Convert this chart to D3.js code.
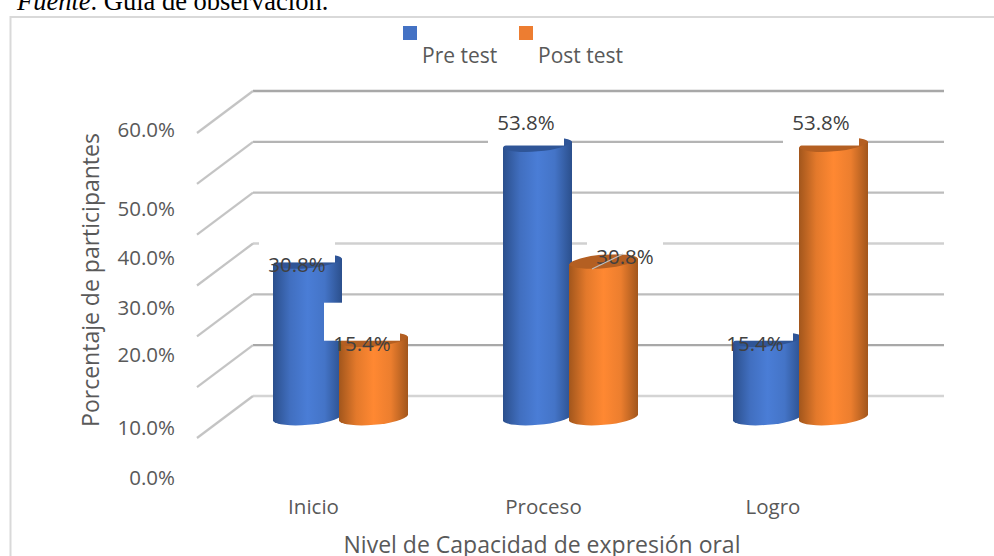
<!DOCTYPE html>
<html><head><meta charset="utf-8">
<script src="https://cdnjs.cloudflare.com/ajax/libs/d3/7.8.5/d3.min.js"></script>
<style>html,body{margin:0;padding:0;background:#fff;overflow:hidden}</style></head>
<body><svg id="c" width="994" height="556" style="display:block"></svg>
<script>
const categories = ["Inicio", "Proceso", "Logro"];
const seriesNames = ["Pre test", "Post test"];
const preTest = [30.8, 53.8, 15.4];
const postTest = [15.4, 30.8, 53.8];
const tickValues = [0, 10, 20, 30, 40, 50, 60];

const svg = d3.select("#c");
const font = "'Open Sans', sans-serif";
const txt = "#595959";

// Frame: left and top rules only
svg.append("line").attr("x1", 10.5).attr("x2", 10.5).attr("y1", 16).attr("y2", 556).attr("stroke", "#d9d9d9").attr("stroke-width", 2);
svg.append("line").attr("x1", 10.5).attr("x2", 994).attr("y1", 17).attr("y2", 17).attr("stroke", "#d9d9d9").attr("stroke-width", 2);

// Caption
const cap = svg.append("text").attr("x", 17).attr("y", 10)
  .attr("font-family", "'Liberation Serif', serif").attr("font-size", 26.5).attr("fill", "#000");
cap.append("tspan").attr("font-style", "italic").text("Fuente");
cap.append("tspan").text(". Guía de observación.");

// Scales: back wall, side wall, bar plane
const yBack = d3.scaleLinear().domain([0, 60]).range([396, 91]);
const ySide = d3.scaleLinear().domain([0, 60]).range([438, 133]);
const yBar = d3.scaleLinear().domain([0, 60]).range([418, 113]);
const x0 = d3.scaleBand().domain(categories).range([225.5, 915.5]);
const barW = 69, overlap = 3;

// Grid
const gridShade = ["#d4d4d4", "#a8a8a8", "#bdbdbd", "#d0d0d0", "#bdbdbd", "#b4b4b4", "#a8a8a8"];
const grid = svg.append("g");
grid.selectAll("line.b").data(tickValues).join("line").attr("class", "b")
  .attr("x1", 253).attr("x2", 944).attr("y1", d => yBack(d)).attr("y2", d => yBack(d))
  .attr("stroke", (d, i) => gridShade[i]).attr("stroke-width", 2.4);
grid.selectAll("line.s").data(tickValues).join("line").attr("class", "s")
  .attr("x1", 197).attr("x2", 253).attr("y1", d => ySide(d)).attr("y2", d => yBack(d))
  .attr("stroke", "#c4c4c4").attr("stroke-width", 2.2);

// Gradients
const defs = svg.append("defs");
function grad(id, edge, mid) {
  const g = defs.append("linearGradient").attr("id", id).attr("x1", 0).attr("x2", 1).attr("y1", 0).attr("y2", 0);
  [[0, edge], [0.25, d3.interpolateRgb(edge, mid)(0.7)], [0.5, mid], [0.75, d3.interpolateRgb(edge, mid)(0.8)], [1, edge]]
    .forEach(s => g.append("stop").attr("offset", s[0]).attr("stop-color", s[1]));
}
grad("gb", "#2b4f8c", "#4a7dd6");
grad("go", "#a2561c", "#ff8832");
const topFill = ["#2f5597", "#b45f22"];

// Cylinders
const tilt = 3, ry = 8;
function cyl(g, xl, value, i) {
  const xr = xl + barW, yt = yBar(value), yb = yBar(0);
  const rx = barW / 2 + 0.5, rot = -5;
  g.append("path")
    .attr("d", `M${xl},${yt + tilt}L${xl},${yb + tilt}A${rx},${ry} ${rot} 0 0 ${xr},${yb - tilt}L${xr},${yt - tilt}Z`)
    .attr("fill", `url(#${i ? "go" : "gb"})`);
  g.append("path")
    .attr("d", `M${xl},${yt + tilt}A${rx},${ry} ${rot} 0 1 ${xr},${yt - tilt}A${rx},${ry} ${rot} 0 1 ${xl},${yt + tilt}Z`)
    .attr("fill", topFill[i]);
}
const bars = svg.append("g");
categories.forEach((c, k) => {
  const center = x0(c) + x0.bandwidth() / 2;
  const left = center - barW + overlap / 2;
  cyl(bars.append("g"), left, preTest[k], 0);
  cyl(bars.append("g"), left + barW - overlap, postTest[k], 1);
});

// Data-label boxes and labels (white background hides what lies behind)
const boxes = svg.append("g"), labels = svg.append("g");
function label(value, boxL, boxBottom, textDY) {
  boxes.append("rect").attr("x", boxL).attr("y", boxBottom - 38).attr("width", 76).attr("height", 38).attr("fill", "#fff");
  labels.append("text").attr("x", boxL + 38).attr("y", boxBottom + textDY)
    .attr("text-anchor", "middle").attr("font-family", font).attr("font-size", 20.5)
    .attr("fill", "#404040").text(d3.format(".1f")(value) + "%");
}
label(preTest[0], 259, yBar(preTest[0]) + 1, 10);
label(postTest[0], 324, yBar(postTest[0]) + 1, 10);
label(preTest[1], 488, yBar(preTest[1]) + 1, -15.5);
label(postTest[1], 587, yBar(postTest[1]) - 7, 10);
label(preTest[2], 717, yBar(preTest[2]) + 1, 10);
label(postTest[2], 783, yBar(postTest[2]) + 1, -15.5);

// Leader line on the 30.8% Post test label
svg.append("line").attr("x1", 592).attr("y1", 269).attr("x2", 623).attr("y2", 254)
  .attr("stroke", "#bfbfbf").attr("stroke-width", 1.2);

// Tick labels: irregularly placed in the reference
const tickLabelDY = [46.5, 47.5, 26, 29, 30.5, 32.5, 3.5];
svg.append("g").selectAll("text").data(tickValues).join("text")
  .attr("x", 175).attr("y", (d, i) => ySide(d) + tickLabelDY[i])
  .attr("text-anchor", "end").attr("font-family", font).attr("font-size", 20.5).attr("fill", txt)
  .text(d => d3.format(".1f")(d) + "%");

// Category labels
const catDX = [-27, -27, -27.5];
svg.append("g").selectAll("text").data(categories).join("text")
  .attr("x", (d, i) => x0(d) + x0.bandwidth() / 2 + catDX[i])
  .attr("y", 514).attr("text-anchor", "middle").attr("font-family", font).attr("font-size", 20.5)
  .attr("fill", txt).text(d => d);

// Axis titles
svg.append("text").attr("transform", "translate(99,280) rotate(-90)")
  .attr("text-anchor", "middle").attr("font-family", font).attr("font-size", 23).attr("fill", txt)
  .text("Porcentaje de participantes");
svg.append("text").attr("x", 542).attr("y", 553).attr("text-anchor", "middle")
  .attr("font-family", font).attr("font-size", 23).attr("fill", txt)
  .text("Nivel de Capacidad de expresión oral");

// Legend
const legColors = ["#4472c4", "#ed7d31"];
const legX = d3.scalePoint().domain(seriesNames).range([403, 519]);
const leg = svg.append("g");
leg.selectAll("rect").data(seriesNames).join("rect")
  .attr("x", d => legX(d)).attr("y", 26).attr("width", 14).attr("height", 14)
  .attr("fill", (d, i) => legColors[i]);
leg.selectAll("text").data(seriesNames).join("text")
  .attr("x", d => legX(d) + 19).attr("y", 63).attr("font-family", font).attr("font-size", 21)
  .attr("fill", txt).text(d => d);
</script></body></html>
